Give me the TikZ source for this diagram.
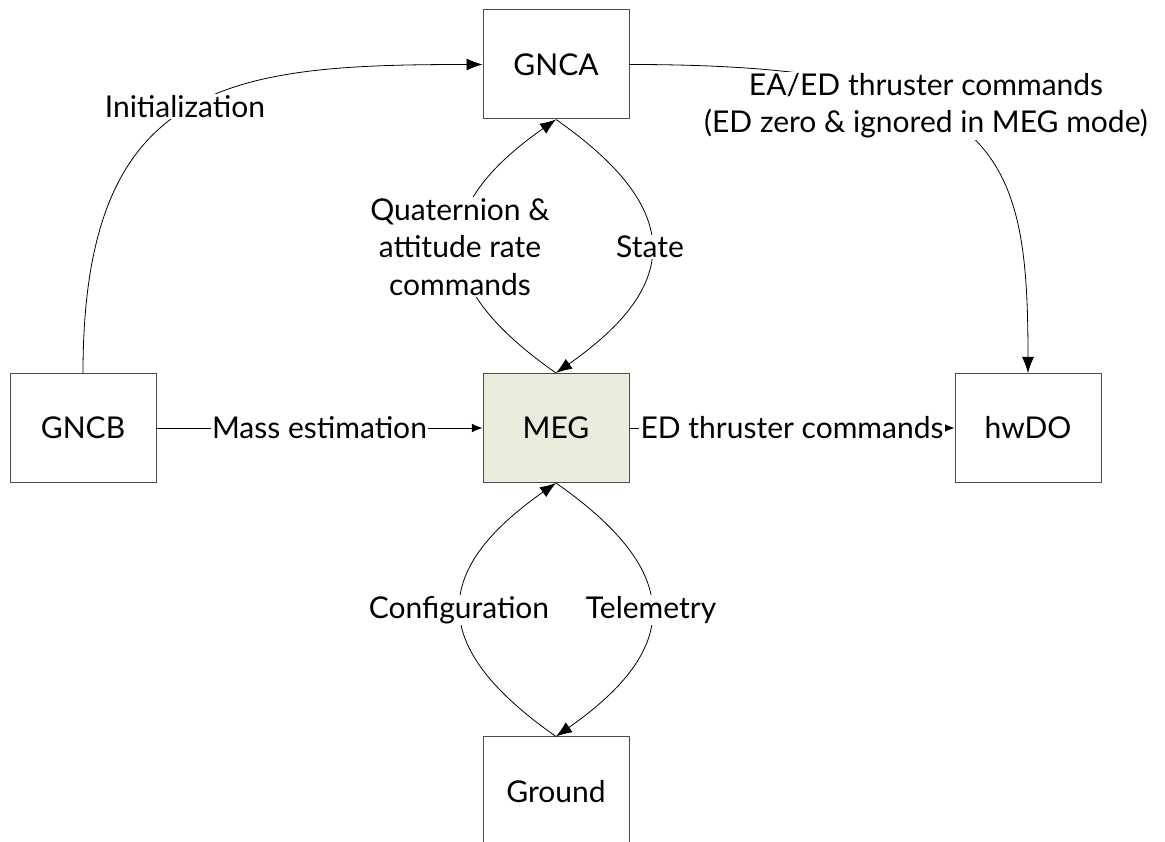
\documentclass[tikz,border=0pt]{standalone}
\usepackage{fontspec}
\setmainfont{Lato}
\usetikzlibrary{arrows.meta}
\definecolor{megfill}{RGB}{234,237,220}
\tikzset{
  box/.style={draw=black!70, line width=0.75pt, minimum width=109.5pt, minimum height=81.75pt, inner sep=0pt, font=\fontsize{22.5}{28}\selectfont},
  conn/.style={draw=black, line width=0.6pt},
  bigarr/.style={conn, -{Latex[length=12pt,width=9pt]}},
  smallarr/.style={conn, -{Latex[length=8pt,width=6.5pt]}},
  lbl/.style={fill=white, inner sep=1pt, align=center, font=\fontsize{22.5}{28}\selectfont}
}
\begin{document}
\begin{tikzpicture}[x=0.75pt,y=0.75pt]
\clip (0,0) rectangle (1165,842);
\fill[white] (0,0) rectangle (1165,842);
\node[box] (GNCA) at (556,777.5) {GNCA};
\node[box, fill=megfill] (MEG) at (556,414) {MEG};
\node[box] (GNCB) at (83,414) {GNCB};
\node[box] (hwDO) at (1028,414) {hwDO};
\node[box] (Ground) at (556,50.5) {Ground};

\draw[bigarr] (GNCB.north) .. controls +(0,293) and +(-253,0) .. (GNCA.west);
\draw[bigarr] (GNCA.east) .. controls +(371,0) and +(0,224) .. (hwDO.north);
\draw[bigarr] (MEG.north) .. controls +(145:155) and +(-145:155) .. (GNCA.south);
\draw[bigarr] (GNCA.south) .. controls +(-35:155) and +(35:155) .. (MEG.north);
\draw[bigarr] (Ground.north) .. controls +(145:155) and +(-145:155) .. (MEG.south);
\draw[bigarr] (MEG.south) .. controls +(-35:155) and +(35:155) .. (Ground.north);
\draw[smallarr] (GNCB.east) -- node[lbl] (lmass) {Mass estimation} (MEG.west);
\draw[smallarr] (MEG.east) -- node[lbl] (led) {ED thruster commands} (hwDO.west);

\node[lbl] (linit) at (185,735) {Initialization};
\node[lbl] (leaed) at (926,736) {EA/ED thruster commands\\(ED zero \& ignored in MEG mode)};
\node[lbl] (lquat) at (460,595) {Quaternion \&\\attitude rate\\commands};
\node[lbl] (lstate) at (650,595) {State};
\node[lbl] (lconf) at (459,232) {Configuration};
\node[lbl] (ltele) at (651,232) {Telemetry};
\end{tikzpicture}
\end{document}
